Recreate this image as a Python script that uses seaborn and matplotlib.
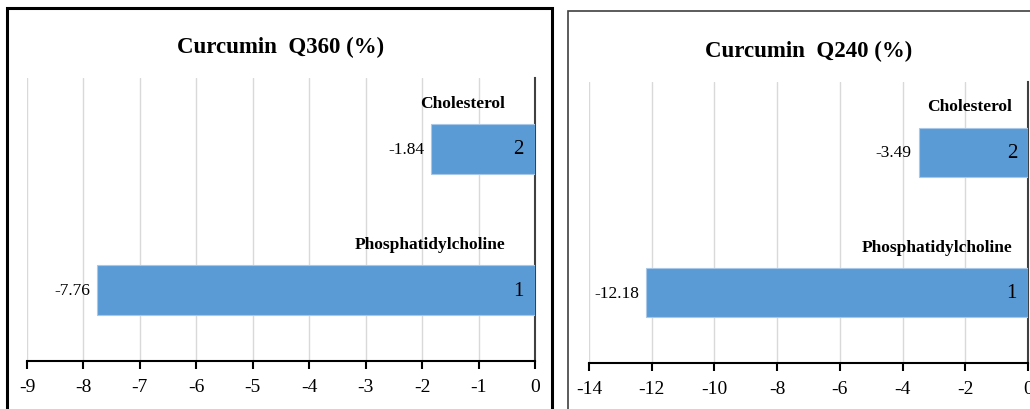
import pandas as pd
import matplotlib.pyplot as plt
import seaborn as sns
from matplotlib.patches import Rectangle
from matplotlib.ticker import MultipleLocator, FormatStrFormatter

# data
categories = ['Cholesterol', 'Phosphatidylcholine']
bar_numbers = ['2', '1']
titles = ['Curcumin  Q360 (%)', 'Curcumin  Q240 (%)']
q360_values = [-1.84, -7.76]
q240_values = [-3.49, -12.18]
x_limits = [(-9, 0), (-14, 0)]
x_steps = [1, 2]

sns.set_theme(style='white')
plt.rcParams['font.family'] = ['Liberation Serif', 'DejaVu Serif']
plt.rcParams['axes.unicode_minus'] = False
plt.rcParams['text.color'] = 'black'
plt.rcParams['axes.titlecolor'] = 'black'

bar_color = '#5B9BD5'

fig = plt.figure(figsize=(10.3, 4.1), dpi=100)
ax_left = fig.add_axes([27 / 1030, 48 / 410, 508 / 1030, 283 / 410])
ax_right = fig.add_axes([589 / 1030, 46 / 410, 439 / 1030, 281 / 410])

panels = [
    (ax_left, q360_values, -30),
    (ax_right, q240_values, -16),
]

for i, (ax, values, name_shift) in enumerate(panels):
    df = pd.DataFrame({'category': categories, 'value': values})
    sns.barplot(data=df, x='value', y='category', order=categories, orient='h',
                color=bar_color, width=0.35, edgecolor='#A9C8E8', linewidth=0.8,
                saturation=1, ax=ax, zorder=3)

    ax.set_xlim(*x_limits[i])
    ax.set_ylim(1.5, -0.5)
    ax.xaxis.set_major_locator(MultipleLocator(x_steps[i]))
    ax.xaxis.set_major_formatter(FormatStrFormatter('%d'))
    ax.grid(axis='x', color='#D9D9D9', linewidth=1, zorder=0)
    ax.grid(axis='y', visible=False)
    ax.set_xlabel('')
    ax.set_ylabel('')
    ax.set_yticks([])

    for side in ['top', 'left']:
        ax.spines[side].set_visible(False)
    ax.spines['right'].set_color('#404040')
    ax.spines['right'].set_linewidth(1.5)
    ax.spines['bottom'].set_color('black')
    ax.spines['bottom'].set_linewidth(1.5)
    ax.tick_params(axis='x', direction='out', length=6, width=1.5, color='black',
                   labelsize=14, labelcolor='black', pad=6, bottom=True)

    ax.set_title(titles[i], fontsize=16.5, fontweight='bold', pad=19, color='black')

    for j, (cat, v) in enumerate(zip(categories, values)):
        # value at the end of the bar
        ax.annotate(f'{v:.2f}', xy=(v, j), xytext=(-7, 0), textcoords='offset pixels',
                    ha='right', va='center', fontsize=12.5, color='black')
        # bar number inside end
        ax.annotate(bar_numbers[j], xy=(0, j), xytext=(-11, 0), textcoords='offset pixels',
                    ha='right', va='center', fontsize=15, color='black')
        # category name above the bar
        ax.annotate(cat, xy=(0, j), xytext=(name_shift, 46), textcoords='offset pixels',
                    ha='right', va='center', fontsize=12.5, fontweight='bold', color='black')

# chart frames
fig.add_artist(Rectangle((7 / 1030, -0.1), 545 / 1030, (410 - 9) / 410 + 0.1,
                         transform=fig.transFigure, fill=False, edgecolor='black',
                         linewidth=2.2, clip_on=False))
fig.add_artist(Rectangle((568 / 1030, -0.1), 0.6, (410 - 12) / 410 + 0.1,
                         transform=fig.transFigure, fill=False, edgecolor='#404040',
                         linewidth=1.2, clip_on=False))

fig.savefig('out.png', dpi=100)
